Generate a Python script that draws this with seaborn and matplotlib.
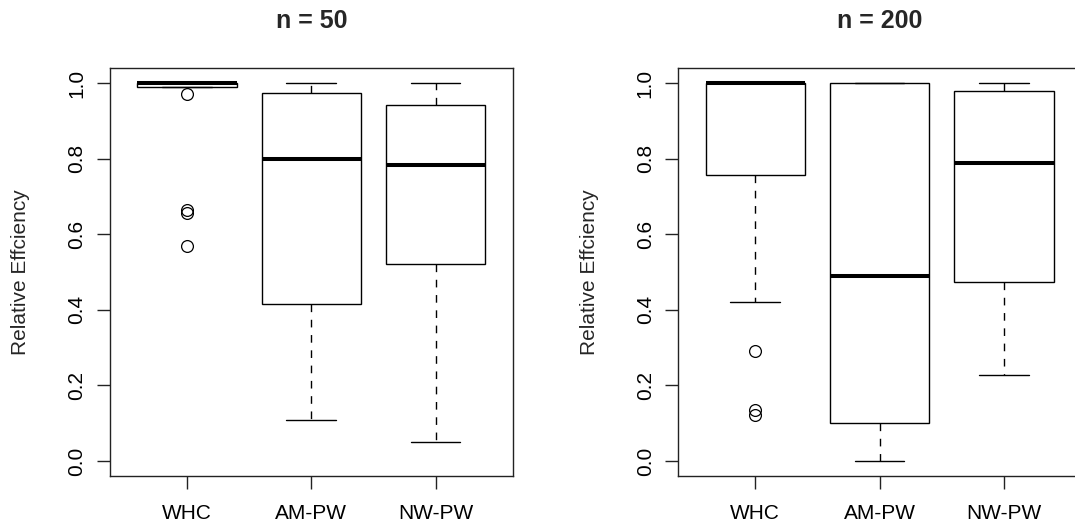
import numpy as np
import pandas as pd
import matplotlib
matplotlib.use("Agg")
import matplotlib.pyplot as plt
import seaborn as sns

# ---- data ----
methods = ["WHC", "AM-PW", "NW-PW"]
panel_titles = ["n = 50", "n = 200"]
y_label = "Relative Effciency"
y_ticks = [0.0, 0.2, 0.4, 0.6, 0.8, 1.0]
y_tick_labels = ["0.0", "0.2", "0.4", "0.6", "0.8", "1.0"]

# n = 50
whc_50 = [0.568, 0.655, 0.665, 0.971, 0.99, 0.995, 0.997, 0.999,
          1.0, 1.0, 1.0, 1.0, 1.0, 1.0, 1.0, 1.0, 1.0]
am_50 = [0.109, 0.416, 0.798, 0.973, 1.0]
nw_50 = [0.051, 0.522, 0.782, 0.942, 1.0]

# n = 200
whc_200 = [0.122, 0.135, 0.29, 0.42, 0.758, 0.85, 0.93, 0.98,
           1.0, 1.0, 1.0, 1.0, 1.0, 1.0, 1.0, 1.0, 1.0]
am_200 = [0.0, 0.10, 0.49, 1.0, 1.0]
nw_200 = [0.227, 0.473, 0.788, 0.98, 1.0]

panels = [[whc_50, am_50, nw_50], [whc_200, am_200, nw_200]]

# ---- style ----
sns.set_style("white")
plt.rcParams["font.family"] = ["Liberation Sans", "DejaVu Sans"]

fig = plt.figure(figsize=(10.75, 5.28), dpi=100)
W, H = 1075.0, 528.0
ax_w = 402.6 / W
ax_h = 408.0 / H
axes = [fig.add_axes([110.0 / W, 52.0 / H, ax_w, ax_h]),
        fig.add_axes([678.3 / W, 52.0 / H, ax_w, ax_h])]

line_c = "black"
for ax, series, title in zip(axes, panels, panel_titles):
    df = pd.DataFrame({
        "method": np.repeat(methods, [len(s) for s in series]),
        "value": np.concatenate(series),
    })
    sns.boxplot(
        data=df, x="method", y="value", order=methods, ax=ax,
        width=0.8, whis=1.5, color="white", saturation=1,
        linecolor=line_c, linewidth=1.0, fliersize=8.5,
        boxprops=dict(edgecolor=line_c, linewidth=1.0, facecolor="white"),
        medianprops=dict(color=line_c, linewidth=2.9, solid_capstyle="butt"),
        whiskerprops=dict(color=line_c, linewidth=1.0, linestyle=(0, (5.5, 5.5))),
        capprops=dict(color=line_c, linewidth=1.0),
        flierprops=dict(marker="o", markerfacecolor="none",
                        markeredgecolor=line_c, markeredgewidth=0.9),
    )
    ax.set_xlim(-0.62, 2.62)
    ax.set_ylim(-0.04, 1.04)
    ax.set_yticks(y_ticks)
    ax.set_yticklabels(y_tick_labels)
    ax.set_xlabel("")
    ax.set_ylabel(y_label, fontsize=15)
    ax.yaxis.set_label_coords(-0.1975, 0.5)
    ax.set_title(title, fontsize=18, fontweight="bold", pad=29)
    ax.tick_params(axis="both", which="major", direction="out", length=9.4,
                   width=1.0, color="#222222", labelsize=15,
                   labelcolor="black", bottom=True, left=True,
                   top=False, right=False)
    ax.tick_params(axis="y", pad=7.5)
    ax.tick_params(axis="x", pad=10.5)
    plt.setp(ax.get_yticklabels(), rotation=90, va="center")
    for sp in ax.spines.values():
        sp.set_visible(True)
        sp.set_color("#222222")
        sp.set_linewidth(1.0)
    ax.grid(False)

fig.savefig("out.png", dpi=100)
